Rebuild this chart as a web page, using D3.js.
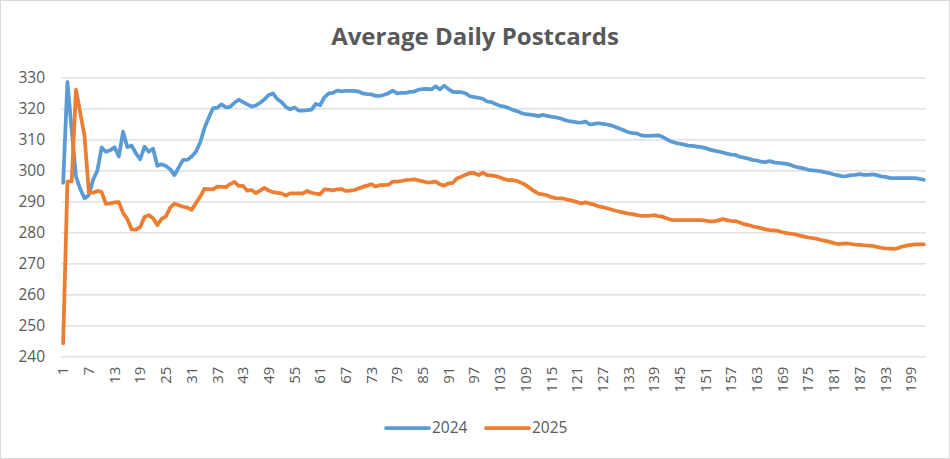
<!DOCTYPE html>
<html>
<head>
<meta charset="utf-8">
<script src="https://cdn.jsdelivr.net/npm/d3@7"></script>
<style>
  body { margin: 0; background: #fff; }
  svg { display: block; }
</style>
</head>
<body>
<div class="canvas"></div>
<script>
// Data
const days = d3.range(1, 203);

const values2024 = [
  296, 328.5, 313, 298, 294, 291, 292, 297, 300, 307.4,
  306, 306.5, 307.5, 304.5, 312.5, 307.5, 308, 305.5, 303.6, 307.6,
  306, 307, 301.5, 302, 301.4, 300.4, 298.5, 301, 303.4, 303.4,
  304.5, 306, 309, 313.6, 317, 320, 320.2, 321.3, 320.3, 320.5,
  321.8, 322.8, 322, 321.3, 320.6, 320.9, 321.8, 322.9, 324.3, 324.8,
  323, 322, 320.5, 319.7, 320.3, 319.3, 319.3, 319.4, 319.6, 321.4,
  321, 323.5, 324.8, 325, 325.7, 325.5, 325.6, 325.6, 325.6, 325.4,
  324.8, 324.6, 324.5, 324, 324, 324.4, 324.9, 325.7, 324.8, 325,
  325, 325.3, 325.4, 326, 326.2, 326.3, 326.1, 327.1, 326.1, 327.3,
  326.2, 325.3, 325.2, 325.2, 324.8, 323.9, 323.6, 323.4, 323.1, 322.2,
  322, 321.4, 320.8, 320.6, 320.1, 319.5, 319.1, 318.5, 318.1, 318,
  317.8, 317.5, 317.9, 317.6, 317.3, 317.1, 316.8, 316.3, 315.9, 315.7,
  315.5, 315.4, 315.7, 314.8, 315, 315.2, 315, 314.8, 314.5, 314,
  313.4, 312.9, 312.3, 312, 311.9, 311.3, 311.1, 311.1, 311.2, 311.3,
  310.8, 310, 309.3, 308.9, 308.6, 308.3, 308, 307.9, 307.7, 307.5,
  307.2, 306.7, 306.4, 306.1, 305.8, 305.4, 305.1, 305, 304.4, 304.1,
  303.8, 303.4, 303.2, 302.8, 302.7, 303, 302.6, 302.4, 302.3, 302.1,
  301.7, 301.2, 300.9, 300.6, 300.2, 300, 299.9, 299.7, 299.4, 299.1,
  298.7, 298.4, 298.1, 298.2, 298.5, 298.6, 298.8, 298.6, 298.6, 298.7,
  298.5, 298.1, 297.9, 297.6, 297.5, 297.5, 297.5, 297.5, 297.5, 297.5,
  297.3, 297
];

const values2025 = [
  244.3, 296.4, 296.5, 326, 318.5, 311, 293, 292.8, 293.4, 293,
  289.2, 289.4, 289.7, 289.8, 286.3, 284.3, 281, 280.9, 281.8, 285,
  285.6, 284.6, 282.4, 284.4, 285.2, 288, 289.3, 288.8, 288.3, 288,
  287.3, 289.4, 291.5, 294.1, 294, 293.9, 294.8, 294.7, 294.6, 295.6,
  296.3, 295, 295, 293.5, 293.7, 292.7, 293.5, 294.4, 293.5, 293,
  292.8, 292.6, 291.9, 292.6, 292.6, 292.6, 292.6, 293.4, 292.8, 292.5,
  292.3, 293.9, 293.8, 293.6, 293.9, 294, 293.4, 293.5, 293.7, 294.2,
  294.7, 295.1, 295.6, 294.8, 295.3, 295.3, 295.4, 296.4, 296.4, 296.6,
  296.9, 297, 297.1, 296.8, 296.5, 296.1, 296.2, 296.4, 295.5, 295.1,
  295.8, 296, 297.5, 298, 298.6, 299.2, 299.1, 298.5, 299.3, 298.5,
  298.4, 298.2, 297.7, 297.2, 296.9, 296.9, 296.6, 296, 295.3, 294.3,
  293.3, 292.5, 292.3, 292, 291.4, 291.1, 291, 290.9, 290.5, 290.2,
  289.8, 289.4, 289.7, 289.3, 289, 288.4, 288.2, 287.8, 287.4, 287,
  286.7, 286.4, 286.1, 285.9, 285.6, 285.4, 285.4, 285.4, 285.6, 285.3,
  285.1, 284.5, 284.1, 284, 284, 284, 284, 284, 284, 284,
  283.8, 283.6, 283.6, 283.9, 284.3, 284, 283.7, 283.7, 283.2, 282.7,
  282.4, 282, 281.7, 281.4, 281, 280.8, 280.7, 280.5, 280.1, 279.8,
  279.6, 279.4, 279, 278.7, 278.4, 278.2, 278, 277.6, 277.3, 277,
  276.6, 276.3, 276.4, 276.5, 276.3, 276.1, 276, 275.9, 275.8, 275.7,
  275.4, 275.1, 274.9, 274.8, 274.7, 275, 275.5, 275.8, 276, 276.2,
  276.2, 276.2
];

const seriesNames = ['2024', '2025'];
const yTicks = [240, 250, 260, 270, 280, 290, 300, 310, 320, 330];
const xTickLabels = [1, 7, 13, 19, 25, 31, 37, 43, 49, 55, 61, 67, 73, 79, 85, 91, 97,
  103, 109, 115, 121, 127, 133, 139, 145, 151, 157, 163, 169, 175, 181, 187, 193, 199];

// Graph set up
const svgWidth = 950;
const svgHeight = 459;
const margin = {top: 77.3, right: 24, bottom: 102.3, left: 61};
const graphWidth = svgWidth - margin.left - margin.right;
const graphHeight = svgHeight - margin.top - margin.bottom;

const colors = ['#5B9BD5', '#ED7D31'];
const textColor = '#595959';
const gridColor = '#D9D9D9';
const font = "'Open Sans', 'Noto Sans', sans-serif";

const svg = d3.select('.canvas')
  .append('svg')
  .attr('width', svgWidth)
  .attr('height', svgHeight)
  .style('font-family', font);

// chart border
svg.append('rect')
  .attr('x', 0.5).attr('y', 0.5)
  .attr('width', svgWidth - 1).attr('height', svgHeight - 1)
  .attr('fill', '#fff')
  .attr('stroke', gridColor);

// Title
svg.append('text')
  .attr('x', 475)
  .attr('y', 45)
  .attr('text-anchor', 'middle')
  .attr('fill', textColor)
  .attr('font-size', 24)
  .attr('font-weight', 'bold')
  .text('Average Daily Postcards');

const graph = svg.append('g')
  .attr('transform', `translate(${margin.left},${margin.top})`);

// Scales
const x = d3.scaleBand().domain(days).range([0, graphWidth]).padding(0);
const y = d3.scaleLinear().domain([240, 330]).range([graphHeight, 0]);

// Gridlines
graph.append('g')
  .selectAll('line')
  .data(yTicks)
  .enter().append('line')
    .attr('x1', 0)
    .attr('x2', graphWidth)
    .attr('y1', d => Math.round(y(d)) + 0.5)
    .attr('y2', d => Math.round(y(d)) + 0.5)
    .attr('stroke', gridColor)
    .attr('stroke-width', 1.3);

// Axes
const yAxis = d3.axisLeft(y).tickValues(yTicks).tickSize(0).tickPadding(16);
const yAxisGroup = graph.append('g').call(yAxis);
yAxisGroup.select('.domain').remove();
yAxisGroup.selectAll('text')
  .attr('fill', textColor)
  .attr('font-size', 15.5)
  .attr('font-family', font);

const xAxis = d3.axisBottom(x).tickValues(xTickLabels).tickSize(0).tickPadding(0);
const xAxisGroup = graph.append('g')
  .attr('transform', `translate(0,${graphHeight})`)
  .call(xAxis);
xAxisGroup.select('.domain').remove();
xAxisGroup.selectAll('text')
  .attr('fill', textColor)
  .attr('font-size', 15)
  .attr('font-family', font)
  .attr('transform', 'rotate(-90)')
  .attr('text-anchor', 'end')
  .attr('dy', '0.35em')
  .attr('x', -10)
  .attr('y', 0);

// Lines
const line = d3.line()
  .x((d, i) => x(days[i]) + x.bandwidth() / 2)
  .y(d => y(d));

[values2024, values2025].forEach((vals, k) => {
  graph.append('path')
    .datum(vals)
    .attr('fill', 'none')
    .attr('stroke', colors[k])
    .attr('stroke-width', 3.75)
    .attr('stroke-linejoin', 'round')
    .attr('stroke-linecap', 'round')
    .attr('d', line);
});

// Legend
const legend = svg.append('g').attr('transform', 'translate(386,428)');
const items = legend.selectAll('g')
  .data(seriesNames)
  .enter().append('g')
    .attr('transform', (d, i) => `translate(${i * 100},0)`);

items.append('line')
  .attr('x1', 0).attr('x2', 43)
  .attr('y1', 0).attr('y2', 0)
  .attr('stroke', (d, i) => colors[i])
  .attr('stroke-width', 3.75)
  .attr('stroke-linecap', 'round');

items.append('text')
  .attr('x', 46)
  .attr('y', 0)
  .attr('dy', '0.35em')
  .attr('fill', textColor)
  .attr('font-size', 15.5)
  .text(d => d);
</script>
</body>
</html>
